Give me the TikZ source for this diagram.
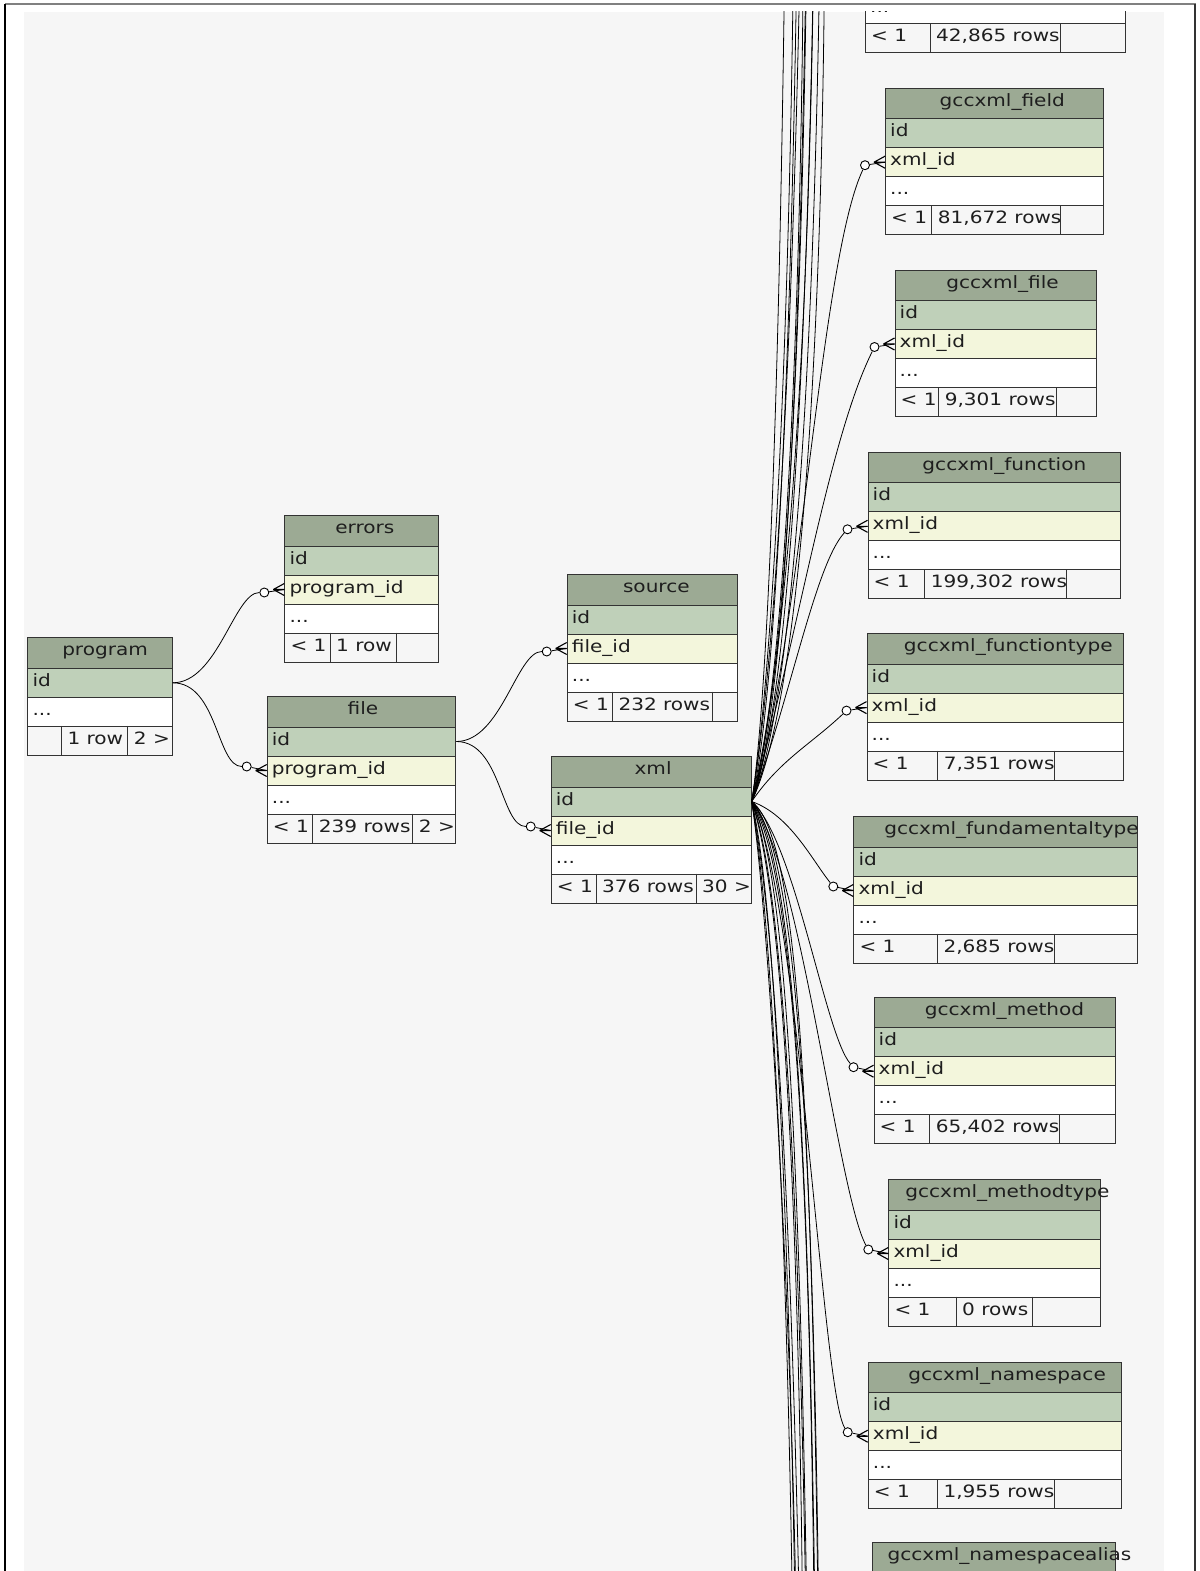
\documentclass[tikz,border=0pt]{standalone}
\usepackage{fontspec}
\newfontfamily\erfont{DejaVu Sans}[FakeStretch=1.18]
\usetikzlibrary{calc}
\definecolor{hdrc}{HTML}{9CAA94}
\definecolor{idc}{HTML}{BFD0B9}
\definecolor{fkc}{HTML}{F3F6DC}
\definecolor{bgc}{HTML}{F6F6F6}
\definecolor{bordc}{HTML}{333333}
\definecolor{txtc}{HTML}{1E1E1E}
\tikzset{
  rowbox/.style={draw=bordc, line width=1pt, inner sep=0pt, anchor=north west, minimum height=29pt},
  hdrbox/.style={rowbox, fill=hdrc, minimum height=30.5pt},
  txt/.style={inner sep=0pt, anchor=base west, text=txtc, font=\erfont\fontsize{17}{20}\selectfont},
  link/.style={draw=black, line width=0.8pt},
  fkcirc/.style={circle, draw=black, fill=white, line width=0.9pt, inner sep=0pt, minimum size=9pt},
  crow/.style={draw=black, line width=1.1pt},
}
% table: name, left, top, right, title, fk-field
\newcommand\ertab[6]{%
  \pgfmathsetmacro\erW{#4-#2}%
  \pgfmathsetmacro\erY{#3+30.5}%
  \node[hdrbox, minimum width=\erW pt] (#1-h) at (#2,#3) {};
  \node[txt, anchor=base] (#1-ht) at ({(#2+#4)/2},{#3+18.5}) {\makebox[0.87\width][l]{#5}};
  \node[rowbox, fill=idc, minimum width=\erW pt] (#1-id) at (#2,\erY) {};
  \node[txt] (#1-idt) at ({#2+5},{\erY+18.5}) {id};
  \if\relax\detokenize{#6}\relax\else
    \pgfmathsetmacro\erY{\erY+29}%
    \node[rowbox, fill=fkc, minimum width=\erW pt] (#1-fk) at (#2,\erY) {};
    \node[txt] (#1-fkt) at ({#2+5},{\erY+18.5}) {#6};
  \fi
  \pgfmathsetmacro\erY{\erY+29}%
  \node[rowbox, fill=white, minimum width=\erW pt] (#1-dots) at (#2,\erY) {};
  \node[txt] (#1-dotst) at ({#2+5},{\erY+18.5}) {...};
  \pgfmathsetmacro\erY{\erY+29}%
  \xdef\erFL{#2}\xdef\erFR{#4}\xdef\erFY{\erY}%
}
\newcommand\erfcell[4]{%
  \if\relax\detokenize{#4}\relax\else
  \begin{scope}
    \clip (#2,\erFY) rectangle (#3,{\erFY+29});
    \node[txt] (#1) at ({#2+6},{\erFY+18.5}) {#4};
  \end{scope}\fi
}
% footer: name, d1, d2, text1, text2, text3
\newcommand\erfoot[6]{%
  \pgfmathsetmacro\erW{\erFR-\erFL}%
  \node[rowbox, fill=bgc, minimum width=\erW pt] (#1-foot) at (\erFL,\erFY) {};
  \erfcell{#1-f1}{\erFL}{#2}{#4}%
  \erfcell{#1-f2}{#2}{#3}{#5}%
  \erfcell{#1-f3}{#3}{\erFR}{#6}%
  \draw[draw=bordc, line width=1pt] (#2,\erFY) -- ++(0,29) (#3,\erFY) -- ++(0,29);
}
% link: start, target table, c1, c2, dy of circle
\newcommand\erlink[5]{%
  \node[fkcirc] (#2-o) at ($(#2-fk.west)+(-20,#5)$) {};
  \draw[link] (#1) .. controls #3 and #4 .. (#2-o);
  \draw[link] (#2-o) -- (#2-fk.west);
  \draw[crow] ($(#2-fk.west)+(-11,0)$) -- ($(#2-fk.west)+(0,-6)$)
              ($(#2-fk.west)+(-11,0)$) -- ($(#2-fk.west)+(0,6)$)
              ($(#2-fk.west)+(-11,0)$) -- (#2-fk.west);
}
\begin{document}
\begin{tikzpicture}[x=1pt,y=-1pt]
\useasboundingbox (0,0) rectangle (1199,1571);
\fill[white] (0,0) rectangle (1199,1571);
\draw[black!50, line width=2pt] (5,4) -- (1196,4);
\draw[black, line width=1.3pt] (5,4) -- (5,1571);
\draw[black!80, line width=1.5pt] (1195,4) -- (1195,1571);
\begin{scope}
\clip (24,12) rectangle (1164,1571);
\fill[bgc] (24,12) rectangle (1164,1571);

% left tables
\ertab{program}{27.3}{637.3}{171.7}{program}{}
\erfoot{program}{61.3}{127.7}{}{1 row}{2 >}
\ertab{errors}{284.3}{515}{437.7}{errors}{program\_id}
\erfoot{errors}{330}{396}{< 1}{1 row}{}
\ertab{file}{266.7}{696}{455.3}{file}{program\_id}
\erfoot{file}{312.7}{412.7}{< 1}{239 rows}{2 >}
\ertab{source}{566.7}{574}{737.3}{source}{file\_id}
\erfoot{source}{612.3}{712.3}{< 1}{232 rows}{}
\ertab{xml}{550.7}{756}{750.7}{xml}{file\_id}
\erfoot{xml}{596}{696}{< 1}{376 rows}{30 >}

% top (cut) table
\node[rowbox, fill=white, minimum width=260pt] (top-dots) at (865,-5.7) {};
\node[txt] (top-dotst) at (870,12.8) {...};
\xdef\erFL{865}\xdef\erFR{1125}\xdef\erFY{23.3}
\erfoot{top}{930}{1060.7}{< 1}{42,865 rows}{}

% right tables
\ertab{field}{885}{87.7}{1103.3}{gccxml\_field}{xml\_id}
\erfoot{field}{931.7}{1060.7}{< 1}{81,672 rows}{}
\ertab{gfile}{894.5}{269.5}{1095.9}{gccxml\_file}{xml\_id}
\erfoot{gfile}{938.6}{1056.8}{< 1}{9,301 rows}{}
\ertab{function}{867.5}{451.8}{1119.9}{gccxml\_function}{xml\_id}
\erfoot{function}{924.6}{1066.8}{< 1}{199,302 rows}{}
\ertab{functiontype}{866.5}{633.1}{1122.9}{gccxml\_functiontype}{xml\_id}
\erfoot{functiontype}{937.6}{1054.8}{< 1}{7,351 rows}{}
\ertab{fundamentaltype}{853.3}{816}{1136.7}{gccxml\_fundamentaltype}{xml\_id}
\erfoot{fundamentaltype}{937.3}{1054.3}{< 1}{2,685 rows}{}
\ertab{method}{873.5}{996.7}{1114.9}{gccxml\_method}{xml\_id}
\erfoot{method}{929.6}{1059.8}{< 1}{65,402 rows}{}
\ertab{methodtype}{888.3}{1179}{1100}{gccxml\_methodtype}{xml\_id}
\erfoot{methodtype}{956}{1032.3}{< 1}{0 rows}{}
\ertab{namespace}{867.7}{1361.7}{1120.7}{gccxml\_namespace}{xml\_id}
\erfoot{namespace}{937.3}{1054.3}{< 1}{1,955 rows}{}
\node[hdrbox, minimum width=242.7pt] (nsa-h) at (872.3,1542.3) {};
\node[txt, anchor=base] (nsa-ht) at (993.65,1560.8) {\makebox[0.87\width][l]{gccxml\_namespacealias}};

% left links
\erlink{program-id.east}{errors}{+(45,0)}{+(-30,0)}{3}
\erlink{program-id.east}{file}{+(45,0)}{+(-30,0)}{-4}
\erlink{file-id.east}{source}{+(45,0)}{+(-30,0)}{3}
\erlink{file-id.east}{xml}{+(45,0)}{+(-30,0)}{-4}

% xml fan: visible targets
\erlink{xml-id.east}{field}{(800,650)}{(820,260)}{3}
\erlink{xml-id.east}{gfile}{(795,650)}{(828,440)}{3}
\erlink{xml-id.east}{function}{(790,700)}{(815,565)}{3}
\erlink{xml-id.east}{functiontype}{(780,760)}{(810,745)}{3}
\erlink{xml-id.east}{fundamentaltype}{(790,815)}{(812,860)}{-4}
\erlink{xml-id.east}{method}{(795,840)}{(825,1035)}{-4}
\erlink{xml-id.east}{methodtype}{(800,860)}{(838,1195)}{-4}
\erlink{xml-id.east}{namespace}{(800,900)}{(822,1395)}{-4}

% xml fan: targets above the view
\foreach \n/\ca/\cb/\cc/\ex/\ey in {
  u1/772/680/300/795/-300, u2/778/690/250/800/-500, u3/782/700/350/804/-200,
  u4/776/660/250/806/-700, u5/786/690/300/809/-400, u6/790/700/250/812/-900,
  u7/784/670/350/815/-250, u8/794/690/250/818/-600, u9/796/700/300/822/-350,
  u10/768/700/300/789/-800, u11/800/700/350/825/-150}{
  \coordinate (\n) at (\ex,\ey);
  \draw[link] (xml-id.east) .. controls (\ca,\cb) and (\ex,\cc) .. (\n);
}
% xml fan: targets below the view
\foreach \n/\ca/\cb/\cc/\ex/\ey in {
  d1/772/920/1300/796/2100, d2/778/910/1350/800/2300, d3/785/900/1250/804/1900,
  d4/776/930/1300/807/2500, d5/790/900/1350/810/2200, d6/795/890/1300/813/2700,
  d7/800/880/1250/816/2000, d8/805/870/1300/819/2400, d9/810/860/1350/821/2100,
  d10/815/850/1300/823/2900, d11/770/920/1400/798/1800}{
  \coordinate (\n) at (\ex,\ey);
  \draw[link] (xml-id.east) .. controls (\ca,\cb) and (\ex,\cc) .. (\n);
}
\end{scope}
\end{tikzpicture}
\end{document}
